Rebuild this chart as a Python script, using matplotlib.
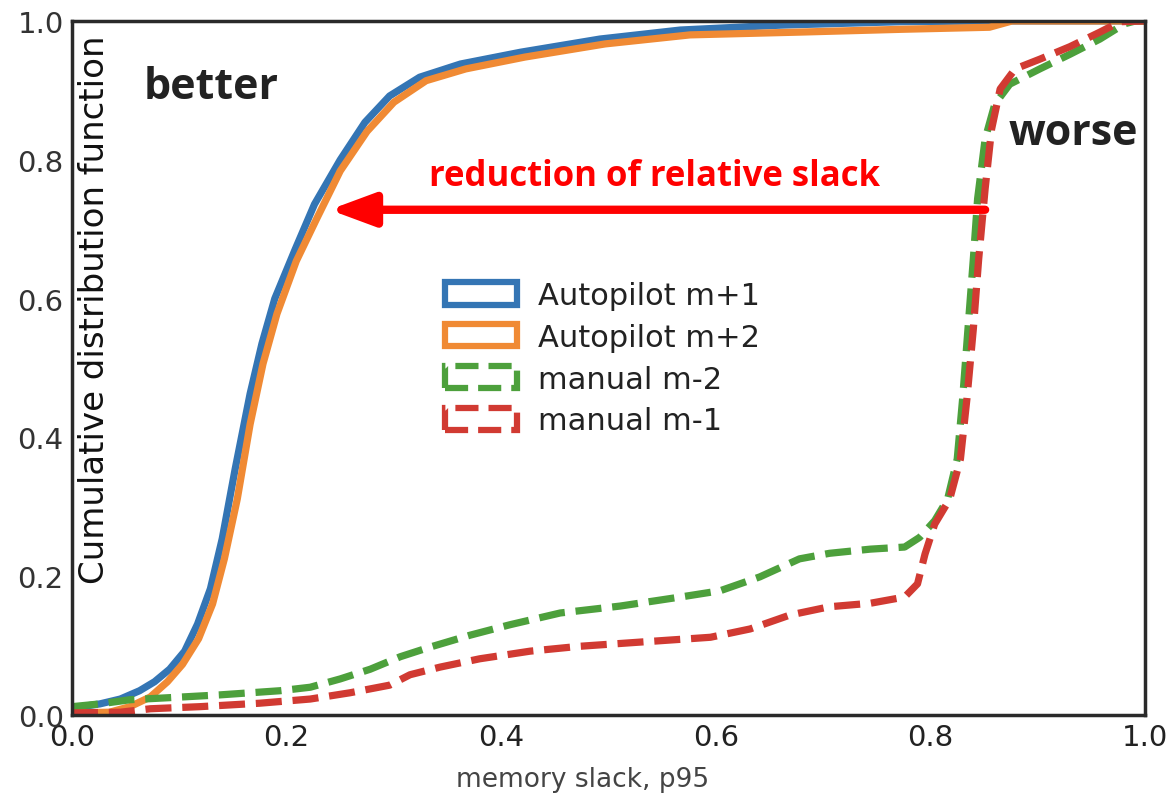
import matplotlib
matplotlib.use("Agg")
import matplotlib.pyplot as plt
from matplotlib.patches import Patch

# ---- data ----
ap1_x = [0.0, 0.026, 0.045, 0.063, 0.077, 0.091, 0.105, 0.117, 0.129, 0.14, 0.152, 0.166, 0.177, 0.189,
         0.208, 0.226, 0.25, 0.273, 0.296, 0.324, 0.362, 0.418, 0.492, 0.567, 0.66, 0.772, 0.865, 1.0]
ap1_y = [0.01, 0.016, 0.023, 0.035, 0.048, 0.066, 0.092, 0.131, 0.182, 0.254, 0.354, 0.463, 0.535, 0.60,
         0.671, 0.736, 0.80, 0.854, 0.892, 0.919, 0.938, 0.955, 0.974, 0.987, 0.994, 0.999, 1.0, 1.0]

ap2_x = [0.0, 0.035, 0.054, 0.073, 0.089, 0.103, 0.118, 0.131, 0.142, 0.154, 0.166, 0.178, 0.191, 0.209,
         0.228, 0.25, 0.275, 0.3, 0.33, 0.367, 0.422, 0.497, 0.576, 0.678, 0.772, 0.855, 0.876, 1.0]
ap2_y = [0.003, 0.004, 0.012, 0.026, 0.048, 0.073, 0.11, 0.16, 0.225, 0.311, 0.419, 0.506, 0.578, 0.654,
         0.715, 0.784, 0.841, 0.883, 0.914, 0.931, 0.948, 0.967, 0.98, 0.984, 0.988, 0.991, 1.0, 1.0]

m2_x = [0.0, 0.026, 0.054, 0.091, 0.138, 0.194, 0.222, 0.25, 0.278, 0.306, 0.334, 0.371, 0.408, 0.455,
        0.511, 0.567, 0.604, 0.641, 0.678, 0.706, 0.744, 0.776, 0.79, 0.804, 0.816, 0.825, 0.83, 0.835,
        0.84, 0.844, 0.851, 0.86, 0.874, 0.902, 0.93, 0.958, 0.981, 0.991, 1.0]
m2_y = [0.012, 0.016, 0.022, 0.025, 0.029, 0.035, 0.04, 0.052, 0.066, 0.084, 0.098, 0.115, 0.13, 0.147,
        0.157, 0.17, 0.179, 0.199, 0.225, 0.233, 0.239, 0.242, 0.256, 0.28, 0.311, 0.369, 0.455, 0.556,
        0.657, 0.744, 0.83, 0.88, 0.909, 0.931, 0.952, 0.974, 0.996, 1.0, 1.0]

m1_x = [0.0, 0.045, 0.073, 0.119, 0.175, 0.222, 0.259, 0.296, 0.315, 0.343, 0.38, 0.427, 0.473, 0.529,
        0.595, 0.632, 0.669, 0.706, 0.744, 0.776, 0.788, 0.795, 0.804, 0.818, 0.828, 0.834, 0.84, 0.845,
        0.851, 0.857, 0.865, 0.879, 0.902, 0.93, 0.958, 0.977, 1.0]
m1_y = [0.003, 0.004, 0.009, 0.012, 0.017, 0.023, 0.032, 0.043, 0.058, 0.069, 0.081, 0.092, 0.099, 0.105,
        0.112, 0.124, 0.144, 0.156, 0.161, 0.17, 0.189, 0.232, 0.275, 0.311, 0.369, 0.455, 0.556, 0.657,
        0.758, 0.844, 0.902, 0.931, 0.945, 0.963, 0.984, 0.999, 1.0]

labels = ["Autopilot m+1", "Autopilot m+2", "manual m-2", "manual m-1"]
colors = ["#3475b4", "#f08a34", "#4da03c", "#d13a32"]
x_ticks = [0.0, 0.2, 0.4, 0.6, 0.8, 1.0]
y_ticks = [0.0, 0.2, 0.4, 0.6, 0.8, 1.0]

fig = plt.figure(figsize=(11.71, 8.03), dpi=100)
ax = fig.add_axes([72/1171, 1 - 716/803, (1145-72)/1171, (716-22)/803])

lw = 5.2
dash = (0, (3.6, 1.5))
ax.plot(ap1_x, ap1_y, color=colors[0], lw=lw, solid_joinstyle="round")
ax.plot(ap2_x, ap2_y, color=colors[1], lw=lw, solid_joinstyle="round")
ax.plot(m2_x, m2_y, color=colors[2], lw=lw, ls=dash, dash_capstyle="butt")
ax.plot(m1_x, m1_y, color=colors[3], lw=lw, ls=dash, dash_capstyle="butt")

ax.set_xlim(0, 1)
ax.set_ylim(0, 1)
ax.set_xticks(x_ticks)
ax.set_yticks(y_ticks)
ax.set_xticklabels([f"{v:.1f}" for v in x_ticks], fontsize=21, color="#222222")
ax.set_yticklabels([f"{v:.1f}" for v in y_ticks], fontsize=21, color="#333333")
ax.tick_params(length=0, pad=6)
for s in ax.spines.values():
    s.set_linewidth(2.5)
    s.set_color("#2a2a2a")

ax.set_xlabel("memory slack, p95", fontsize=19, color="#444444")
ax.xaxis.set_label_coords(0.476, -0.074)
ax.text(0.021, 0.585, "Cumulative distribution function", transform=ax.transAxes,
        rotation=90, ha="center", va="center", fontsize=24.5, color="#111111")

handles = [
    Patch(facecolor="none", edgecolor=colors[0], lw=4.5),
    Patch(facecolor="none", edgecolor=colors[1], lw=4.5),
    Patch(facecolor="none", edgecolor=colors[2], lw=4.5, ls="--"),
    Patch(facecolor="none", edgecolor=colors[3], lw=4.5, ls="--"),
]
leg = ax.legend(handles, labels, loc="upper left", bbox_to_anchor=(0.322, 0.665),
                frameon=False, fontsize=22, handlelength=2.35, handleheight=0.75,
                labelspacing=0.42, handletextpad=0.7)
for t in leg.get_texts():
    t.set_color("#222222")

ax.text(0.067, 0.905, "better", fontsize=31, fontweight="bold", color="#222222",
        family="Open Sans", va="center", ha="left")
ax.text(0.873, 0.84, "worse", fontsize=31, fontweight="bold", color="#222222",
        family="Open Sans", va="center", ha="left")
ax.text(0.333, 0.776, "reduction of relative slack", fontsize=25, fontweight="bold",
        color="#ff0000", family="Open Sans", va="center", ha="left")
ax.annotate("", xy=(0.24, 0.728), xytext=(0.851, 0.728),
            arrowprops=dict(arrowstyle="-|>,head_length=2.7,head_width=1.0",
                            color="#ff0000", lw=6, shrinkA=0, shrinkB=0))

fig.savefig("out.png", dpi=100)
